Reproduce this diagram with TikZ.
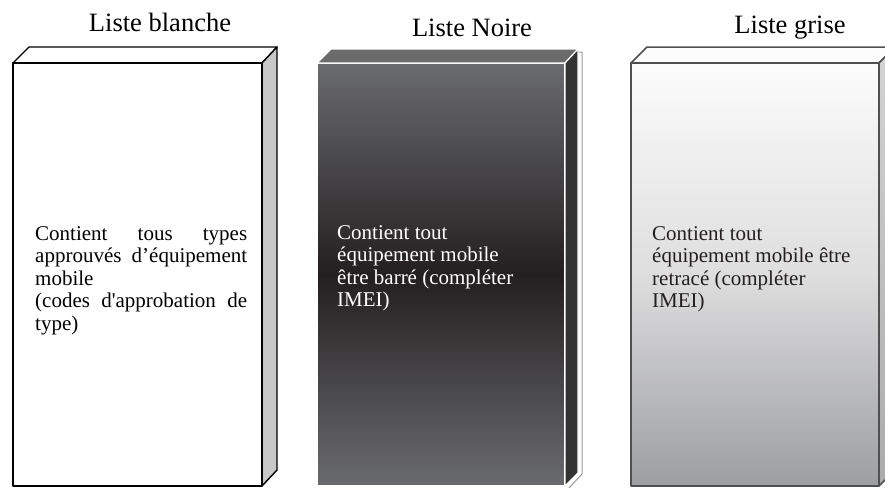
\documentclass[tikz,border=0pt]{standalone}
\usepackage{fontspec}
\newfontfamily\tnr{Liberation Serif}
\definecolor{sideA}{HTML}{C8C8C8}
\definecolor{darkT}{HTML}{6B6B6B}
\definecolor{darkS}{HTML}{333333}
\definecolor{darkE}{HTML}{6A6B6E}
\definecolor{darkM}{HTML}{231F20}
\definecolor{greyE}{HTML}{505050}
\definecolor{greyB}{HTML}{9D9EA0}
\definecolor{greyM}{HTML}{DEDEDF}
\definecolor{greyT}{HTML}{FCFCFC}
\definecolor{greyST}{HTML}{D4D4D4}
\definecolor{greySB}{HTML}{ABABAB}
\definecolor{inkT}{HTML}{231F20}
\begin{document}
\begin{tikzpicture}[x=1pt,y=-1pt,
  titletext/.style={font=\tnr\fontsize{26.5}{30}\selectfont, inner sep=0, anchor=base},
  bodytext/.style={font=\tnr\fontsize{21}{22.5}\selectfont, align=left, anchor=north west, inner sep=0},
  whitebox/.style={draw=black, line width=1.4pt, line join=round},
  darkbox/.style={draw=white, line width=1.2pt, line join=round},
  greybox/.style={draw=greyE, line width=1.5pt, line join=round},
]
\useasboundingbox (0,0) rectangle (885,488);

% ---- white list box
\filldraw[whitebox, fill=white] (13,63) -- (29,47) -- (277,47) -- (262,63) -- cycle;
\filldraw[whitebox, fill=sideA] (262,63) -- (277,47) -- (277,470) -- (262,486) -- cycle;
\filldraw[whitebox, fill=white] (13,63) rectangle (262,486);

% ---- black list box
\draw[gray!80, line width=1pt] (578,52) -- (582,52) -- (582,474) -- (569,488);
\shade[top color=darkE, bottom color=darkE, middle color=darkM] (317,63) rectangle (565,486);
\draw[darkbox] (317,63) rectangle (565,486);
\filldraw[darkbox, fill=darkT] (317,63) -- (331,49) -- (578,49) -- (565,63) -- cycle;
\filldraw[darkbox, fill=darkS] (565,63) -- (578,49) -- (578,473) -- (565,486) -- cycle;

% ---- grey list box
\filldraw[greybox, fill=greyT] (631,63) -- (647,47) -- (895,47) -- (879,63) -- cycle;
\shade[top color=greyST, bottom color=greySB] (879,63) -- (895,47) -- (895,470) -- (879,486) -- cycle;
\draw[greybox] (879,63) -- (895,47) -- (895,470) -- (879,486) -- cycle;
\shade[top color=greyT, bottom color=greyB, middle color=greyM] (631,63) rectangle (879,486);
\draw[greybox] (631,63) rectangle (879,486);

% ---- titles
\node[titletext] (t1) at (160,31) {Liste blanche};
\node[titletext] (t2) at (472,36) {Liste Noire};
\node[titletext] (t3) at (790,33) {Liste grise};

% ---- texts
\node[bodytext] (b1) at (35,224.5) {\strut\makebox[212pt][s]{Contient tous types}\\
\strut\makebox[212pt][s]{approuvés d’équipement}\\
\strut mobile\\
\strut\makebox[212pt][s]{(codes d'approbation de}\\
\strut type)};
\node[bodytext, text=white] (b2) at (337,223.5) {\strut Contient tout\\
\strut équipement mobile\\
\strut être barré (compléter\\
\strut IMEI)};
\node[bodytext, text=inkT] (b3) at (652,224.5) {\strut Contient tout\\
\strut équipement mobile être\\
\strut retracé (compléter\\
\strut IMEI)};
\end{tikzpicture}
\end{document}
